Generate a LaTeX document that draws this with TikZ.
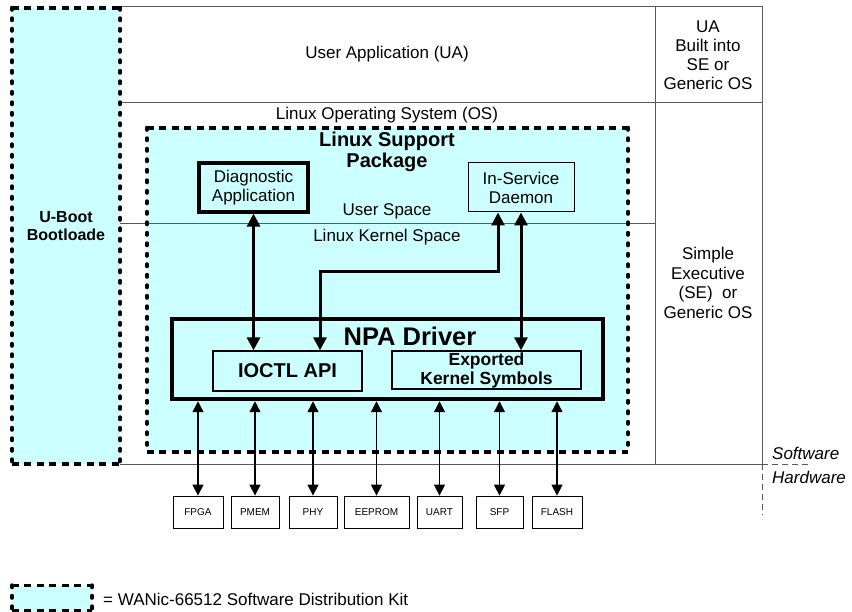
\documentclass[tikz,border=0pt]{standalone}
\usepackage{fontspec}
\setmainfont{Liberation Sans}
\usetikzlibrary{arrows.meta,positioning}
\definecolor{kitcyan}{RGB}{204,255,255}
\definecolor{rulegray}{RGB}{90,90,90}

\begin{document}
\begin{tikzpicture}[x=1pt,y=-1pt,
    txt/.style={font=\fontsize{17}{19}\selectfont, align=center, inner sep=0pt},
    boldtxt/.style={font=\fontsize{17}{19}\selectfont\bfseries, align=center, inner sep=0pt},
    rule/.style={draw=rulegray, line width=1pt},
    kitfill/.style={fill=kitcyan, draw=none, inner sep=0pt},
    kith/.style={line width=3.5pt, dash pattern=on 7pt off 5.5pt},
    kitv/.style={line width=4pt, line cap=round, dash pattern=on 2pt off 8.5pt},
    swbox/.style={draw=black, fill=kitcyan, inner sep=0pt},
    devbox/.style={draw=black, line width=0.8pt, fill=white, inner sep=0pt,
        minimum height=32pt, font=\fontsize{10}{11}\selectfont},
    buslink/.style={line width=3pt, {Triangle[length=13pt,width=13pt]}-{Triangle[length=13pt,width=13pt]}},
    hwlink/.style={line width=1.4pt, {Triangle[length=11pt,width=11pt]}-{Triangle[length=11pt,width=11pt]}}]

    \useasboundingbox (0,0) rectangle (852,612);

    % Frame of the software stack
    \draw[rule] (120,7) -- (762,7) -- (762,464) -- (120,464);
    \draw[rule] (655,7) -- (655,464);
    \draw[rule] (120,103) -- (762,103);
    \draw[rule, dashed, dash pattern=on 6pt off 4pt] (762,464) -- (808,464) (762,464) -- (762,515);

    % U-Boot kit box
    \node[kitfill, minimum width=108pt, minimum height=456pt] (uboot) at (66,236) {};
    \draw[kith] (uboot.north west) -- (uboot.north east) (uboot.south west) -- (uboot.south east);
    \draw[kitv] (uboot.north west) -- (uboot.south west) (uboot.north east) -- (uboot.south east);

    % Linux support package kit box
    \node[kitfill, minimum width=481pt, minimum height=324pt] (lsp) at (387.5,290) {};
    \draw[rule] (120,224) -- (655,224);
    \draw[kith] (lsp.north west) -- (lsp.north east) (lsp.south west) -- (lsp.south east);
    \draw[kitv] (lsp.north west) -- (lsp.south west) (lsp.north east) -- (lsp.south east);

    % Applications and driver
    \node[swbox, line width=3.2pt, minimum width=109pt, minimum height=49pt, txt] (diag) at (253.5,187.5) {Diagnostic\\Application};
    \node[swbox, line width=1pt, minimum width=106pt, minimum height=49pt, txt] (isd) at (521,187.5) {In-Service\\Daemon};
    \node[swbox, line width=4.5pt, minimum width=431pt, minimum height=80pt] (npa) at (387.5,359) {};
    \node[boldtxt, font=\fontsize{25.5}{28}\selectfont\bfseries] (npalbl) at (410,336) {NPA Driver};
    \node[swbox, line width=1.3pt, minimum width=149pt, minimum height=40pt, boldtxt, font=\fontsize{20}{22}\selectfont\bfseries] (ioctl) at (287.5,371) {IOCTL API};
    \node[swbox, line width=1.3pt, minimum width=189pt, minimum height=38pt, boldtxt, font=\fontsize{17.5}{19}\selectfont\bfseries] (exported) at (486.5,370) {Exported\\Kernel Symbols};

    % Links between user space and kernel
    \coordinate (knee) at (320,272);
    \draw[buslink] (diag.south) -- (diag.south |- ioctl.north);
    \draw[buslink] ([xshift=-23pt]isd.south) |- (knee) -- (knee |- ioctl.north);
    \draw[buslink] (isd.south) -- (isd.south |- exported.north);

    % Hardware devices
    \foreach \dev/\cx/\w in {FPGA/198/50, PMEM/255/48, PHY/313/48, EEPROM/376.5/65, UART/439.5/45, SFP/499.5/47, FLASH/557/50} {
        \node[devbox, minimum width=\w pt] (dev\dev) at (\cx,512) {\dev};
        \draw[hwlink] (npa.south -| dev\dev.north) -- (dev\dev.north);
    }

    % Labels
    \node[txt] (ualbl) at (387,54) {User Application (UA)};
    \node[txt] (uabuilt) at (708,55.5) {UA\\Built into\\SE or\\Generic OS};
    \node[txt, font=\fontsize{17}{19.5}\selectfont] (selbl) at (708,283) {Simple\\Executive\\(SE)~~or\\Generic OS};
    \node[txt] (oslbl) at (387,115) {Linux Operating System (OS)};
    \node[boldtxt, font=\fontsize{20}{21}\selectfont\bfseries] (lsplbl) at (387,152) {Linux Support\\Package};
    \node[txt] (userlbl) at (387,211) {User Space};
    \node[txt] (kernellbl) at (387,237) {Linux Kernel Space};
    \node[boldtxt, font=\fontsize{16}{18}\selectfont\bfseries] (ubootlbl) at (66,226) {U-Boot\\Bootloade};
    \node[txt, anchor=west, font=\fontsize{17}{19}\selectfont\itshape] (swlbl) at (772,453) {Software};
    \node[txt, anchor=west, font=\fontsize{17}{19}\selectfont\itshape] (hwlbl) at (772,477) {Hardware};

    % Legend
    \node[kitfill, minimum width=80pt, minimum height=25pt] (legend) at (52,598) {};
    \draw[kith] (legend.north west) -- (legend.north east) (legend.south west) -- (legend.south east);
    \draw[kitv] (legend.north west) -- (legend.south west) (legend.north east) -- (legend.south east);
    \node[txt, anchor=west] (legendlbl) at (103,599) {= WANic-66512 Software Distribution Kit};
\end{tikzpicture}
\end{document}
